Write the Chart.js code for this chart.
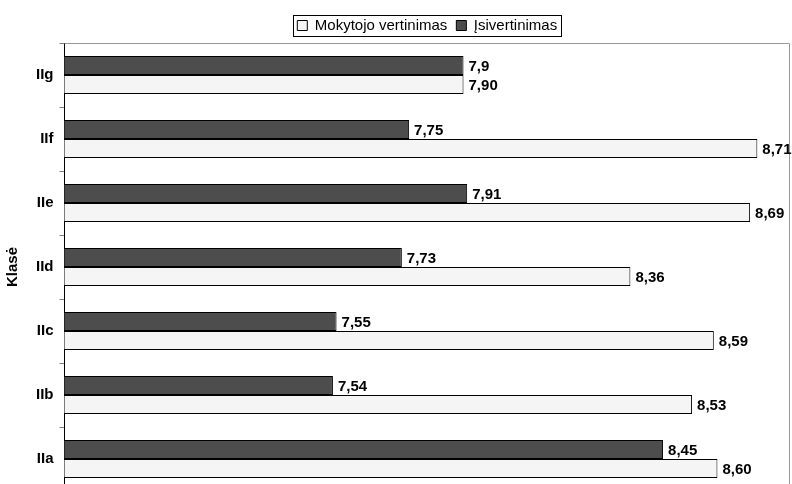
<!DOCTYPE html>
<html>
<head>
<meta charset="utf-8">
<script src="https://cdn.jsdelivr.net/npm/chart.js@4.4.1/dist/chart.umd.min.js"></script>
<style>
  html, body { margin: 0; padding: 0; background: #fff; overflow: hidden; }
</style>
</head>
<body>
<canvas id="myChart" width="792" height="491"></canvas>
<script>
const classes = ['IIg', 'IIf', 'IIe', 'IId', 'IIc', 'IIb', 'IIa'];
const selfValues = [7.9, 7.75, 7.91, 7.73, 7.55, 7.54, 8.45];
const teacherValues = [7.90, 8.71, 8.69, 8.36, 8.59, 8.53, 8.60];

Chart.defaults.font.family = '"Liberation Sans", Arial, sans-serif';
Chart.defaults.color = '#000';

// value labels at the end of each bar
const valueLabels = {
  id: 'valueLabels',
  afterDatasetsDraw(chart) {
    const ctx = chart.ctx;
    ctx.save();
    ctx.font = 'bold 15px "Liberation Sans", Arial, sans-serif';
    ctx.fillStyle = '#000';
    ctx.textAlign = 'left';
    ctx.textBaseline = 'middle';
    chart.data.datasets.forEach((ds, i) => {
      chart.getDatasetMeta(i).data.forEach((bar, j) => {
        const v = ds.data[j];
        const txt = i === 0 ? String(v).replace('.', ',') : v.toFixed(2).replace('.', ',');
        ctx.fillText(txt, bar.x + 5, bar.y + 1);
      });
    });
    ctx.restore();
  }
};

// grey frame on top/right of plot + box round the legend
const frames = {
  id: 'frames',
  beforeDatasetsDraw(chart) {
    const a = chart.chartArea, ctx = chart.ctx;
    ctx.save();
    ctx.strokeStyle = '#999';
    ctx.lineWidth = 1;
    ctx.beginPath();
    ctx.moveTo(a.left, a.top + 0.5);
    ctx.lineTo(a.right - 0.5, a.top + 0.5);
    ctx.lineTo(a.right - 0.5, a.bottom);
    ctx.stroke();
    ctx.restore();
  },
  afterDraw(chart) {
    const boxes = chart.legend.legendHitBoxes;
    if (!boxes || !boxes.length) return;
    const l = Math.min(...boxes.map(b => b.left)) - 4;
    const r = Math.max(...boxes.map(b => b.left + b.width)) + 4;
    const t = boxes[0].top - 3;
    const b = boxes[0].top + boxes[0].height + 3;
    const ctx = chart.ctx;
    ctx.save();
    ctx.strokeStyle = '#000';
    ctx.lineWidth = 1;
    ctx.strokeRect(Math.round(l) + 0.5, Math.round(t) + 0.5, Math.round(r - l), Math.round(b - t));
    ctx.restore();
  }
};

new Chart('myChart', {
  type: 'bar',
  data: {
    labels: classes,
    datasets: [
      {
        label: 'Įsivertinimas',
        data: selfValues,
        backgroundColor: '#4d4d4d',
        borderColor: '#000',
        borderWidth: 1
      },
      {
        label: 'Mokytojo vertinimas',
        data: teacherValues,
        backgroundColor: '#f5f5f5',
        borderColor: '#000',
        borderWidth: 1
      }
    ]
  },
  options: {
    indexAxis: 'y',
    responsive: false,
    animation: false,
    devicePixelRatio: 1,
    datasets: { bar: { categoryPercentage: 0.59, barPercentage: 1 } },
    layout: { padding: { top: 0, left: 4, right: 2, bottom: 0 } },
    plugins: {
      legend: {
        position: 'top',
        fullSize: false,
        reverse: true,
        labels: {
          boxWidth: 10,
          boxHeight: 10,
          padding: 9,
          font: { size: 15 },
          color: '#000'
        }
      },
      tooltip: { enabled: false }
    },
    scales: {
      x: {
        display: false,
        min: 6.8,
        max: 8.8
      },
      y: {
        afterFit(scale) {
          scale.paddingTop = 43;
          scale.paddingBottom = 0;
        },
        grid: {
          drawOnChartArea: false,
          tickLength: 5,
          color: '#808080'
        },
        border: { color: '#000', width: 1 },
        ticks: {
          padding: 6,
          font: { size: 15, weight: 'bold' },
          color: '#000'
        },
        title: {
          display: true,
          text: 'Klasė',
          font: { size: 15, weight: 'bold' },
          color: '#000',
          padding: { top: 0, bottom: 8 }
        }
      }
    }
  },
  plugins: [valueLabels, frames]
});
</script>
</body>
</html>
